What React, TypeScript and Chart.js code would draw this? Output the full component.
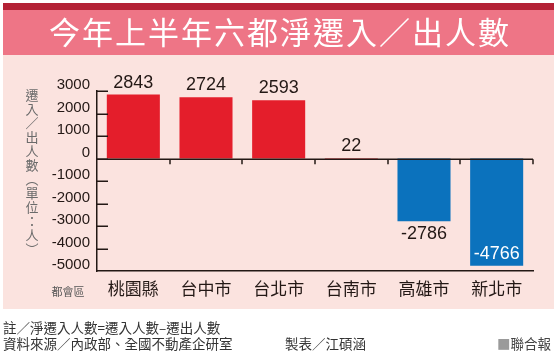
import React, { useEffect, useRef } from "react";
import { Chart, registerables } from "chart.js";

Chart.register(...registerables);

const TITLE = "今年上半年六都淨遷入／出人數";
const CATEGORIES = ["桃園縣", "台中市", "台北市", "台南市", "高雄市", "新北市"];
const VALUES = [2843, 2724, 2593, 22, -2786, -4766];
const Y_MIN = -5000;
const Y_MAX = 3000;
const Y_STEP = 1000;
const Y_TITLE_CHARS = ["遷", "入", "／", "出", "人", "數", "︵", "單", "位", "：", "人", "︶"];
const X_TITLE = "都會區";
const NOTE = "註／淨遷入人數=遷入人數–遷出人數";
const SOURCE = "資料來源／內政部、全國不動產企研室";
const MAKER = "製表／江碩涵";
const BRAND = "聯合報";

const RED = "#e41e2b";
const BLUE = "#0b72bd";
const DARK = "#231815";
const CJK = '"Noto Sans CJK TC", "Noto Sans CJK SC", sans-serif';
const NUM = '"Liberation Sans", Arial, sans-serif';

export default function App() {
  const ref = useRef<HTMLCanvasElement | null>(null);

  useEffect(() => {
    const canvas = ref.current;
    if (!canvas) return;

    const decor = {
      id: "decor",
      beforeDraw(chart: any) {
        const ctx = chart.ctx as CanvasRenderingContext2D;
        const W = chart.width;
        ctx.save();
        ctx.fillStyle = "#ffffff";
        ctx.fillRect(0, 0, W, chart.height);
        ctx.fillStyle = "#b42236";
        ctx.fillRect(3, 3, 551, 7);
        ctx.fillStyle = "#ee7586";
        ctx.fillRect(3, 10, 551, 45);
        ctx.fillStyle = "#fbe3df";
        ctx.fillRect(3, 55, 551, 254);
        // title
        ctx.fillStyle = "#ffffff";
        ctx.font = `31px ${CJK}`;
        (ctx as any).letterSpacing = "2px";
        ctx.textAlign = "center";
        ctx.textBaseline = "middle";
        ctx.fillText(TITLE, 280, 32);
        (ctx as any).letterSpacing = "0px";
        // y title (vertical)
        ctx.fillStyle = "#6b6b6b";
        ctx.font = `13px ${CJK}`;
        Y_TITLE_CHARS.forEach((c, i) => {
          ctx.fillText(c, 32, 95 + i * 14);
        });
        // x title
        ctx.fillStyle = "#555555";
        ctx.font = `11px ${CJK}`;
        ctx.fillText(X_TITLE, 68, 292);
        // footer
        ctx.fillStyle = "#333333";
        ctx.font = `13.5px ${CJK}`;
        ctx.textAlign = "left";
        ctx.fillText(NOTE, 3, 328);
        ctx.fillText(SOURCE, 3, 344);
        ctx.fillText(MAKER, 285, 344);
        ctx.textAlign = "right";
        ctx.fillStyle = "#444444";
        ctx.fillText(BRAND, 551, 344);
        const bw = ctx.measureText(BRAND).width;
        ctx.fillStyle = "#9a9a9a";
        ctx.fillText("■", 551 - bw, 344);
        ctx.restore();
      },
      afterDatasetsDraw(chart: any) {
        const ctx = chart.ctx as CanvasRenderingContext2D;
        const xs = chart.scales.x;
        const ys = chart.scales.y;
        const area = chart.chartArea;
        ctx.save();
        ctx.strokeStyle = DARK;
        ctx.lineWidth = 1.5;
        // inward y ticks
        ys.ticks.forEach((t: any) => {
          if (t.value === Y_MIN) return;
          const py = Math.round(ys.getPixelForValue(t.value)) + 0.25;
          ctx.beginPath();
          ctx.moveTo(area.left, py);
          ctx.lineTo(area.left + 11, py);
          ctx.stroke();
        });
        // zero line
        const zy = Math.round(ys.getPixelForValue(0)) + 0.25;
        ctx.beginPath();
        ctx.moveTo(area.left, zy);
        ctx.lineTo(area.right, zy);
        ctx.stroke();
        // category boundary ticks (downward)
        const step = xs.getPixelForValue(1) - xs.getPixelForValue(0);
        CATEGORIES.forEach((_, i) => {
          const bx = Math.round(xs.getPixelForValue(i) + step / 2);
          ctx.beginPath();
          ctx.moveTo(bx, zy);
          ctx.lineTo(bx, zy + 5);
          ctx.stroke();
        });
        // value labels
        const meta = chart.getDatasetMeta(0);
        ctx.font = `18px ${NUM}`;
        ctx.textAlign = "center";
        ctx.textBaseline = "middle";
        meta.data.forEach((el: any, i: number) => {
          const v = VALUES[i];
          const txt = String(v);
          if (v >= 0) {
            ctx.fillStyle = DARK;
            ctx.fillText(txt, el.x, el.y - 12);
          } else if (el.y + 24 > area.bottom) {
            ctx.fillStyle = "#ffffff";
            ctx.fillText(txt, el.x, el.y - 12);
          } else {
            ctx.fillStyle = DARK;
            ctx.fillText(txt, el.x, el.y + 13);
          }
        });
        ctx.restore();
      },
    };

    const chart = new Chart(canvas, {
      type: "bar",
      data: {
        labels: CATEGORIES,
        datasets: [
          {
            data: VALUES,
            backgroundColor: VALUES.map((v) => (v >= 0 ? RED : BLUE)),
            borderWidth: 0,
            barPercentage: 0.73,
            categoryPercentage: 1,
          },
        ],
      },
      options: {
        responsive: false,
        animation: false,
        layout: { padding: { left: 37, right: 27, top: 91, bottom: 52 } },
        plugins: { legend: { display: false }, tooltip: { enabled: false }, title: { display: false } },
        scales: {
          x: {
            grid: { display: false, drawTicks: false },
            border: { display: true, color: DARK, width: 1.5 },
            ticks: {
              color: DARK,
              padding: 7,
              font: { family: CJK, size: 17, weight: "normal" as any },
              maxRotation: 0,
              autoSkip: false,
            },
            afterFit(scale: any) {
              scale.height = 35;
            },
          },
          y: {
            min: Y_MIN,
            max: Y_MAX,
            grid: { display: false, drawTicks: false },
            border: { display: true, color: DARK, width: 1.5 },
            ticks: {
              stepSize: Y_STEP,
              color: DARK,
              padding: 7,
              labelOffset: -6,
              font: { family: NUM, size: 15 },
              callback: (v: any) => String(v),
            },
            afterFit(scale: any) {
              scale.width = 60;
            },
          },
        },
      },
      plugins: [decor],
    });

    return () => chart.destroy();
  }, []);

  return (
    <div style={{ position: "absolute", left: 0, top: 0, width: 560, height: 358 }}>
      <canvas ref={ref} width={560} height={358} style={{ display: "block" }} />
    </div>
  );
}
